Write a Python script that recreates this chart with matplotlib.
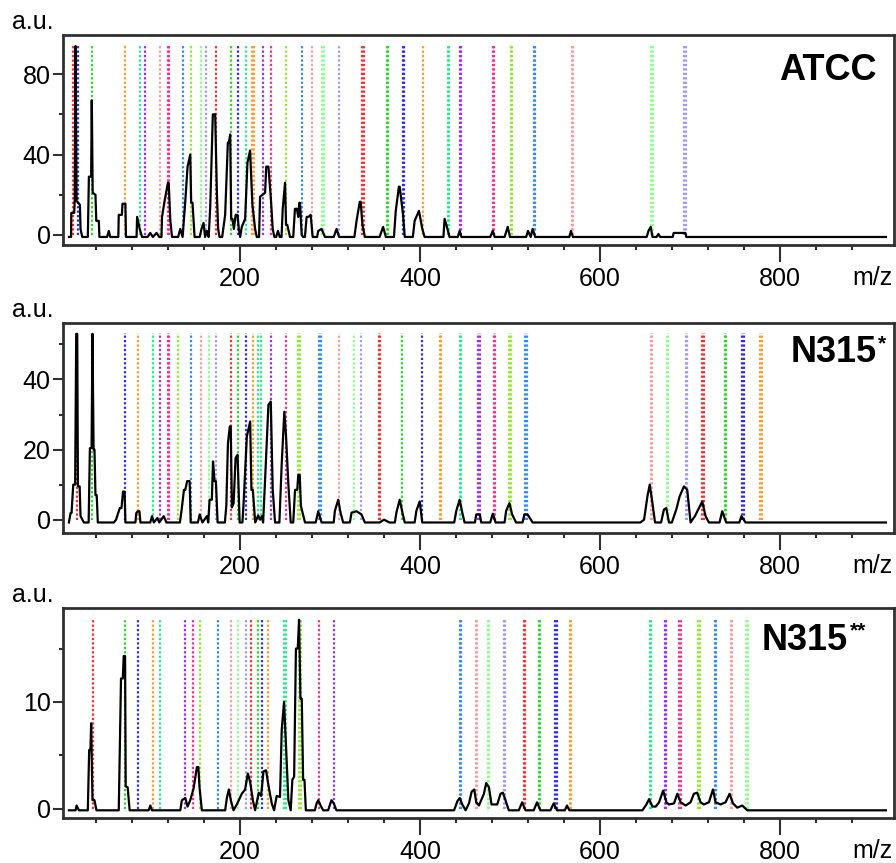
import matplotlib
matplotlib.use("Agg")
import matplotlib.pyplot as plt
from matplotlib.ticker import FixedLocator

plt.rcParams["font.family"] = ["Liberation Sans", "DejaVu Sans"]

# colour of each ion series marker
SERIES_COLORS = {
    "red": "#ff2a2a", "green": "#22dd22", "blue": "#2a2aff", "orange": "#ff9a2a",
    "spring": "#22ee88", "violet": "#9a2aff", "pink": "#ff9a9a", "rose": "#ff2a8a",
    "azure": "#2a8aff", "lime": "#8aee22", "mint": "#8aff8a", "lavender": "#9a9aff",
}

# ---------------- ATCC ----------------
ATCC_MZ = [
    9.6, 12.0, 12.2, 15.5, 16.0, 17.0, 18.1, 21.8, 22.5, 24.4,
    30.6, 31.8, 34.3, 35.0, 36.0, 39.1, 40.0, 42.8, 43.5, 52.0,
    53.9, 55.5, 64.5, 65.0, 68.5, 69.1, 72.4, 73.0, 84.8, 85.4,
    88.3, 90.9, 97, 100, 103, 107, 110, 112.5, 113.1, 116.0,
    119.7, 120.5, 122.3, 124.2, 131, 133.4, 136, 139, 141.5, 144.5,
    145.5, 147, 149.3, 155, 157, 159.3, 161, 163, 165, 166.7,
    169.6, 172.2, 174.1, 175.5, 177, 180, 183.3, 186.3, 187.5, 188.9,
    190, 191.4, 193, 195, 197, 198.5, 200, 201.8, 205.5, 208.1,
    211, 213.6, 216.6, 218.5, 221, 222.1, 225, 227.7, 229, 231.4,
    234, 236.2, 238, 240, 242, 244, 246, 247.3, 249.9, 251,
    252.4, 255.4, 259, 260.9, 263, 264.6, 265.7, 266.5, 268.4, 270,
    272, 273.9, 276, 278.4, 280.6, 285.5, 286.8, 290.5, 294.3, 304,
    307.2, 310, 327, 329.4, 333, 334, 336, 338.6, 355, 358.9,
    362, 371, 373, 376.5, 377.4, 381.1, 383, 392, 394, 398.8,
    402.5, 405.1, 426, 427.3, 429.9, 432.8, 442, 444, 446, 478,
    480.9, 483, 494, 497.5, 500, 518, 520, 523, 525.2, 528,
    566, 567.8, 570, 652, 654, 656.5, 658.5, 663, 665, 667,
    681, 682, 695, 696, 918,
]
ATCC_INT = [
    -1, -1, 11, 11, 17, 94, 17, 15, 3, -1,
    -1, 29, 29, 67, 21, 20, 7, 7, -1, -1,
    2, -1, -1, 10, 10, 15.5, 15.5, -1, -1, 9,
    3, -1, -1, 1, -1, 1, -1, -1, 9, 17,
    26, 26, 7.5, -1, -1, 3, -1, 17, 34, 40,
    16, 16, -1, -1, 3, 6, -1, 2, -1, 14,
    60, 60, 21, 3, -1, -1, 10, 46, 46, 50,
    8, 8, 3, 10, 10, 3, -1, 4, 8, 36,
    42, 15, 3, -1, -1, 19, 20, 21, 34, 34,
    19, 3, -1, -1, 2, -1, -1, 13, 26, 5,
    5, -1, -1, 13, 13, 9, 16, 16, 0, -1,
    -1, 9, 9, 10, -1, -1, 2, 3, -1, -1,
    3, -1, -1, 7, 16.5, 16.5, 5, -1, -1, 4,
    -1, -1, 12, 24, 24, 10, -1, -1, 7, 12,
    3, -1, -1, 8, 4, -1, -1, 2, -1, -1,
    2, -1, -1, 4, -1, -1, 2, -1, 3, -1,
    -1, 2, -1, -1, 2, 4, -1, -1, 0.5, -1,
    -1, 1, 1, -1, -1,
]
ATCC_ION_MZ = [
    13.6, 19.2, 35.8, 72.4, 89.1, 94.6, 111.2, 119.3, 121.0, 136.7,
    145.6, 156.7, 162.2, 173.4, 190.0, 197.7, 206.6, 213.6, 215.2, 225.5,
    234.4, 250.9, 268.7, 279.8, 291.2, 292.8, 309.7, 335.6, 337.2, 363.3,
    364.9, 381.0, 382.6, 402.9, 430.9, 432.5, 444.2, 445.8, 480.8, 482.4,
    500.8, 502.4, 526.3, 527.9, 568.5, 570.5, 657.2, 658.8, 693.8, 695.4,
]
ATCC_ION_SERIES = [
    "red", "blue", "green", "orange", "spring", "violet", "pink", "rose", "rose", "azure",
    "lime", "mint", "lavender", "red", "green", "blue", "spring", "orange", "orange", "violet",
    "rose", "lime", "azure", "pink", "mint", "mint", "lavender", "red", "red", "green",
    "green", "blue", "blue", "orange", "spring", "spring", "violet", "violet", "rose", "rose",
    "lime", "lime", "azure", "azure", "pink", "pink", "mint", "mint", "lavender", "lavender",
]

# ---------------- N315* ----------------
N315A_MZ = [
    9.6, 11.4, 12.5, 14.4, 16.5, 17.7, 18.8, 19.6, 21.5, 22.5,
    26.2, 31.5, 32.9, 34.8, 35.8, 37, 38, 39.1, 40.5, 41.7,
    59.5, 62, 66.1, 68, 69.8, 71.5, 72.4, 83.5, 84.5, 86.1,
    88, 89.1, 100, 102, 104, 108, 110, 115, 118, 133,
    135, 137.5, 139, 141, 143.8, 145, 153, 155, 158, 163,
    164.5, 166, 168.5, 169.8, 171.5, 173, 174.9, 183, 184.6, 186.4,
    188.5, 189.5, 190.8, 192.7, 194.9, 197.1, 199.4, 202.5, 203.8, 207.4,
    211.1, 212.5, 214.1, 216.7, 220, 222.1, 224, 225.5, 227.7, 231.4,
    234, 236.2, 238.8, 243.6, 246.2, 249.1, 251, 253.6, 256.2, 259,
    261, 263.5, 264.6, 266.2, 267.5, 268.4, 272.1, 284, 286.8, 290.5,
    304, 305.3, 309, 311.6, 314.5, 322, 323.8, 329.4, 334.9, 338.6,
    355, 360, 366, 372, 373.7, 377.4, 380.4, 383, 394, 395.9,
    399.6, 402.5, 438, 440.3, 444, 447, 449.5, 461, 462.5, 466.5,
    468, 478, 480.9, 484, 494, 495.7, 499.4, 502.4, 506.8, 514,
    516, 519.5, 525.2, 645, 649.1, 652.8, 655.4, 658.4, 661.3, 668,
    671.2, 673.8, 676.8, 680, 684.9, 688.6, 693.4, 697.1, 700.8, 705.6,
    710.1, 713.8, 717.5, 721.2, 733, 736, 740.4, 755, 757.4, 761.9,
    918,
]
N315A_INT = [
    -0.8, 1.9, 1.9, 10, 10, 53, 53, 9.5, 9.5, 1,
    -0.8, -0.8, 20.4, 20.4, 53, 20, 20, 7, 7, -0.8,
    -0.8, 0, 3.3, 3.3, 8, 8, -0.8, -0.8, 1.9, 2.4,
    2.4, -0.8, -0.8, 1, -0.8, 0.5, -0.8, 1, -0.8, -0.8,
    3, 8.5, 8.5, 11, 11, -0.8, -0.8, 1.5, -0.8, 1,
    -0.8, 5.7, 5.7, 16.6, 11, 11, -0.8, -0.8, 4, 21.8,
    26.6, 26.6, 3.5, 4.7, 17.6, 18.5, -0.8, -0.8, 4.7, 23.7,
    28, 8.5, 8.5, -0.8, 1.2, 0, 1, -0.8, 11.4, 32.7,
    33.7, 8.5, -0.8, -0.8, 16, 30.8, 23.7, 10, -0.8, -0.8,
    8.5, 8.5, 12.8, 12.8, 4, 3, -0.8, -0.8, 2.4, -0.8,
    -0.8, 2.5, 5.7, 2, -0.8, -0.8, 2, 2.4, 1.5, -0.8,
    -0.8, 0, -0.8, -0.8, 2, 5.7, 2, -0.8, -0.8, 2.5,
    5.2, -0.8, -0.8, 2.5, 5.7, 2, -0.8, -0.8, 1.5, 1.5,
    -0.8, -0.8, 1.7, -0.8, -0.8, 2.5, 4.7, 1.5, -0.8, -0.8,
    1.5, 1.5, -0.8, -0.8, 0, 6.6, 10, 4.7, -0.8, -0.8,
    2.9, 3.3, -0.8, -0.8, 2.9, 6.6, 9.5, 8.5, -0.8, 1,
    3.3, 5.2, 1, -0.8, -0.8, 2.4, -0.8, -0.8, 1, -0.8,
    -0.8,
]
N315A_ION_MZ = [
    18.9, 35.8, 72.4, 86.1, 103.1, 111.2, 119.3, 121.2, 130.9, 145.3,
    156.4, 164.8, 173.0, 189.6, 198.1, 206.6, 214.7, 220.3, 222.9, 234.3,
    250.9, 264.6, 266.2, 287.9, 289.5, 310.1, 326.7, 334.9, 354.4, 356.0,
    380.0, 402.1, 422.1, 423.7, 444.2, 445.8, 464.6, 466.2, 482.0, 483.6,
    499.4, 501.0, 517.1, 518.7, 656.8, 658.4, 674.6, 676.2, 695.2, 696.8,
    713.7, 715.3, 738.9, 740.5, 758.1, 759.7, 778.4, 780.0,
]
N315A_ION_SERIES = [
    "red", "green", "blue", "orange", "spring", "violet", "rose", "rose", "lime", "azure",
    "pink", "mint", "lavender", "red", "green", "blue", "orange", "spring", "spring", "violet",
    "rose", "lime", "lime", "azure", "azure", "pink", "mint", "lavender", "red", "red",
    "green", "blue", "orange", "orange", "spring", "spring", "violet", "violet", "rose", "rose",
    "lime", "lime", "azure", "azure", "pink", "pink", "mint", "mint", "lavender", "lavender",
    "red", "red", "green", "green", "blue", "blue", "orange", "orange",
]

# ---------------- N315** ----------------
N315B_MZ = [
    9.6, 17, 18.1, 20.7, 30.6, 32.1, 33.5, 34.3, 35.8, 38,
    40.2, 65, 67.5, 69.5, 70.5, 72, 72.7, 74.9, 77.1, 98.2,
    100.1, 101.9, 133.4, 135.2, 139, 141.5, 144.5, 148.2, 151.9, 153.5,
    154.8, 157.4, 183.3, 185.2, 187.4, 189.6, 192.6, 196.3, 201.8, 205.5,
    208.5, 211.1, 214.1, 216.6, 218.5, 220.7, 223.3, 225.9, 228.8, 231.4,
    235.1, 237.7, 240.6, 244.3, 246.2, 248.8, 251, 253.6, 256.2, 258,
    260, 262, 264, 265.5, 267, 268.5, 270, 271.5, 273, 283,
    285, 286.8, 289.4, 292.3, 297.8, 301.5, 304.1, 307, 437.8, 441.5,
    444, 447, 450.7, 454.4, 457.4, 460.3, 462.5, 465.5, 471, 473.6,
    476.6, 479.5, 485.8, 489.5, 492.1, 495, 498.7, 509.8, 513.5, 517.2,
    526.4, 530.1, 533.8, 545, 548.6, 552.3, 561, 563.4, 566, 647.3,
    651.7, 654.7, 658.4, 662.1, 665.8, 670.3, 674, 676.8, 682.4, 686.1,
    689.8, 695.3, 700.8, 704.5, 708.2, 711.9, 715.6, 721.2, 725.7, 728.6,
    734.2, 739.7, 744.2, 747.9, 752.7, 758.3, 763.8, 918,
]
N315B_INT = [
    -0.15, -0.15, 0.3, -0.15, -0.15, 5.5, 5.5, 8.0, 0.8, 0.8,
    -0.15, -0.15, 12.2, 12.2, 14.3, 14.3, 2.1, 2.0, -0.15, -0.15,
    0.3, -0.15, -0.15, 0.8, 1.0, 0.2, 0.8, 1.9, 3.9, 3.9,
    2.0, -0.15, -0.15, 1.0, 1.8, 0.8, -0.15, 0.4, 1.4, 1.8,
    3.3, 2.5, 0.8, -0.15, 0.6, 1.5, 1.2, 3.5, 3.6, 2.2,
    0.5, -0.15, 1.2, 1.1, 7.4, 10, 5.8, 0.8, -0.15, 2.7,
    3.0, 15, 15, 17.7, 10.3, 10.3, 2.7, 2.7, -0.15, -0.15,
    0.5, 0.8, 0.3, -0.15, -0.15, 0.8, 0.5, -0.15, -0.15, 0.7,
    1.0, 0.4, -0.15, 0.5, 1.6, 1.8, 0.6, 0.3, 1.4, 2.4,
    2.0, 0.4, 0.4, 1.4, 1.5, 0.8, -0.15, -0.15, 0.6, -0.15,
    -0.15, 0.6, -0.15, -0.15, 0.5, -0.15, -0.15, 0.3, -0.15, -0.15,
    0.4, 0.9, 0.2, 0.2, 0.6, 1.7, 0.6, 0.4, 0.5, 1.4,
    0.6, 0.3, 0.6, 1.4, 1.5, 0.6, 0.4, 0.6, 1.8, 0.6,
    0.4, 0.6, 1.4, 0.5, 0.1, 0.3, -0.15, -0.15,
]
N315B_ION_MZ = [
    36.2, 72.4, 86.1, 103.1, 111.2, 139.0, 147.5, 155.6, 175.9, 189.6,
    198.1, 206.6, 211.8, 220.3, 224.0, 231.3, 249.1, 250.7, 265.7, 267.3,
    287.6, 304.2, 444.2, 445.8, 461.7, 463.3, 475.6, 477.2, 493.0, 494.6,
    515.6, 517.2, 531.9, 533.5, 550.4, 552.0, 566.3, 567.9, 655.7, 657.3,
    672.4, 674.0, 688.2, 689.8, 709.3, 710.9, 727.8, 729.4, 745.6, 747.2,
    762.9, 764.5,
]
N315B_ION_SERIES = [
    "red", "green", "blue", "orange", "spring", "violet", "rose", "lime", "azure", "pink",
    "mint", "lavender", "red", "green", "blue", "orange", "spring", "spring", "lime", "lime",
    "rose", "violet", "azure", "azure", "pink", "pink", "mint", "mint", "lavender", "lavender",
    "red", "red", "green", "green", "blue", "blue", "orange", "orange", "spring", "spring",
    "violet", "violet", "rose", "rose", "lime", "lime", "azure", "azure", "pink", "pink",
    "mint", "mint",
]

X_MAJOR = [200, 400, 600, 800]
X_MINOR = [40, 80, 120, 160, 240, 280, 320, 360, 440, 480, 520, 560,
           640, 680, 720, 760, 840, 880]

FRAME = "#303030"


def draw_panel(ax, mz, inten, ion_mz, ion_series, ion_top, ylim,
               y_major, y_minor, name, stars, name_pos, star_pos):
    colors = [SERIES_COLORS[s] for s in ion_series]
    ax.vlines(ion_mz, 0, ion_top, colors=colors, linewidth=1.6,
              linestyles=(0, (1, 1)), zorder=2)
    ax.plot(mz, inten, color="black", linewidth=1.6, zorder=3)

    ax.set_xlim(3, 927)
    ax.set_ylim(*ylim)

    ax.xaxis.set_major_locator(FixedLocator(X_MAJOR))
    ax.xaxis.set_minor_locator(FixedLocator(X_MINOR))
    ax.yaxis.set_major_locator(FixedLocator(y_major))
    ax.yaxis.set_minor_locator(FixedLocator(y_minor))

    ax.tick_params(axis="x", which="major", direction="out", length=12,
                   width=1.5, pad=3.5, labelsize=18, color=FRAME)
    ax.tick_params(axis="x", which="minor", direction="out", length=3.6,
                   width=1.5, color=FRAME)
    ax.tick_params(axis="y", which="major", direction="out", length=7,
                   width=1.5, pad=2, labelsize=18, color=FRAME)
    ax.tick_params(axis="y", which="minor", direction="out", length=3,
                   width=1.5, color=FRAME)

    for sp in ax.spines.values():
        sp.set_linewidth(2)
        sp.set_color(FRAME)

    ax.text(-0.0614, 1.029, "a.u.", transform=ax.transAxes, ha="left",
            va="baseline", fontsize=18)
    ax.text(0.9988, -0.19, "m/z", transform=ax.transAxes, ha="right",
            va="baseline", fontsize=18)

    ax.text(name_pos[0], name_pos[1], name, transform=ax.transAxes,
            ha="right", va="baseline", fontsize=26, fontweight="bold")
    if stars:
        ax.text(star_pos[0], star_pos[1], stars, transform=ax.transAxes,
                ha="left", va="top", fontsize=15, fontweight="bold")


fig = plt.figure(figsize=(8.96, 8.63), dpi=100)

W, H = 896.0, 863.0
left = 63 / W
width = 831 / W
height = 210 / H

ax1 = fig.add_axes([left, 1 - 245 / H, width, height])
ax2 = fig.add_axes([left, 1 - 533 / H, width, height])
ax3 = fig.add_axes([left, 1 - 818 / H, width, height])

draw_panel(ax1, ATCC_MZ, ATCC_INT, ATCC_ION_MZ, ATCC_ION_SERIES, 95,
           (-5, 99.5), [0, 40, 80], [20, 60], "ATCC", "",
           (0.9795, 0.786), None)
draw_panel(ax2, N315A_MZ, N315A_INT, N315A_ION_MZ, N315A_ION_SERIES, 53.2,
           (-3.8, 56.1), [0, 20, 40], [10, 30, 50], "N315", "*",
           (0.9795, 0.814), (0.9805, 0.945))
draw_panel(ax3, N315B_MZ, N315B_INT, N315B_ION_MZ, N315B_ION_SERIES, 17.8,
           (-0.87, 18.8), [0, 10], [5, 15], "N315", "**",
           (0.9446, 0.80), (0.9475, 0.935))

fig.savefig("out.png", dpi=100)
